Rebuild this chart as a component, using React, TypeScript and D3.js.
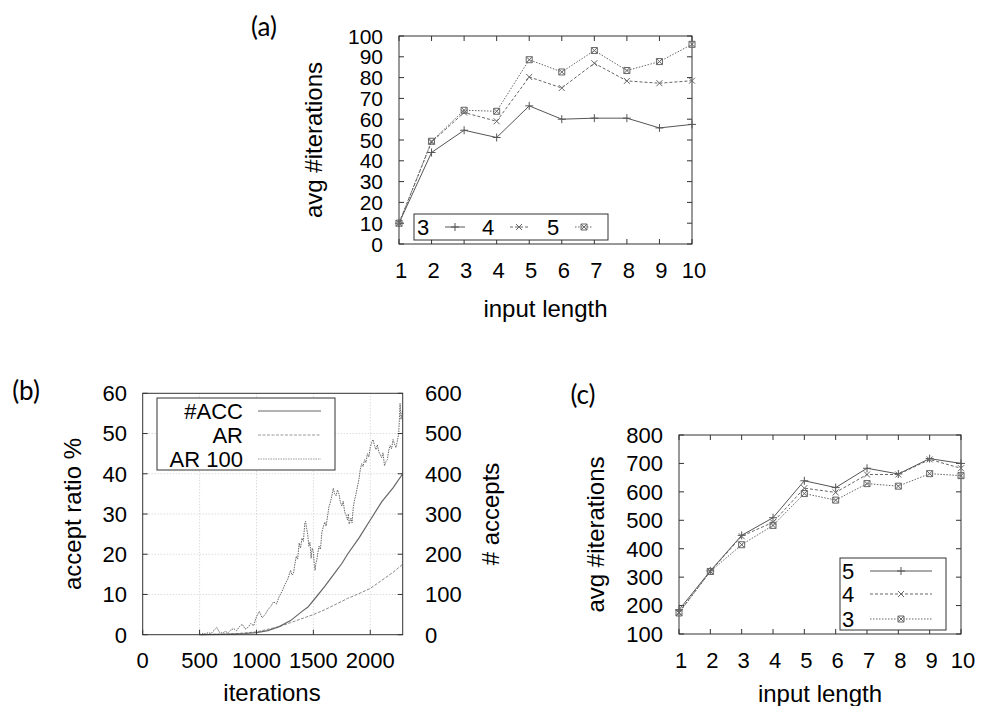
import React from "react";
import * as d3 from "d3";

// panel (a) and (c): avg iterations per input length
const lengths = [1, 2, 3, 4, 5, 6, 7, 8, 9, 10];
const aSeries3 = [10, 44, 54.7, 51.2, 66.4, 60, 60.5, 60.5, 55.8, 57.5];
const aSeries4 = [10, 49, 63.2, 59, 80.3, 75, 86.9, 78.4, 77.3, 78.5];
const aSeries5 = [10, 49.4, 64.3, 63.8, 88.6, 82.7, 93, 83.4, 87.7, 96];
const aTicks = [0, 10, 20, 30, 40, 50, 60, 70, 80, 90, 100];

const cSeries5 = [185, 322, 447, 509, 639, 615, 683, 663, 717, 700];
const cSeries4 = [176, 320, 444, 493, 613, 598, 661, 661, 714, 683];
const cSeries3 = [174, 320, 414, 482, 594, 571, 629, 620, 664, 657];
const cTicks = [100, 200, 300, 400, 500, 600, 700, 800];

// panel (b): acceptance over iterations
const bXTicks = [0, 500, 1000, 1500, 2000];
const bLeftTicks = [0, 10, 20, 30, 40, 50, 60];
const bRightTicks = [0, 100, 200, 300, 400, 500, 600];
const accPoints: [number, number][] = [
  [500, 0], [700, 1], [900, 3], [1000, 5], [1100, 10], [1200, 20], [1300, 35],
  [1400, 58], [1450, 68], [1500, 85], [1600, 120], [1700, 158], [1750, 177],
  [1800, 200], [1900, 240], [2000, 285], [2100, 330], [2200, 365], [2285, 400],
];
const arPoints: [number, number][] = [
  [500, 0], [800, 0.2], [1000, 0.7], [1200, 2.0], [1300, 3.0], [1400, 4.0],
  [1500, 5.0], [1600, 6.2], [1700, 7.6], [1800, 9.0], [1900, 10.2], [2000, 11.5],
  [2100, 13.5], [2200, 15.5], [2285, 17.5],
];
const ar100Points: [number, number][] = [
  [500, 0], [525, 0.3], [550, 0.2], [575, 0.5], [600, 0.3], [625, 1.0], [650, 1.8],
  [675, 0.6], [700, 0.4], [725, 0.8], [750, 0.5], [775, 1.2], [800, 1.5], [825, 1.0],
  [850, 2.0], [875, 2.6], [900, 1.4], [925, 1.8], [950, 2.8], [975, 2.2], [1000, 4.5],
  [1025, 5.8], [1050, 4.2], [1075, 5.0], [1100, 6.2], [1125, 7.0], [1150, 8.2],
  [1175, 7.6], [1200, 9.5], [1225, 10.8], [1250, 12.5], [1275, 13.8], [1300, 16.0],
  [1312, 14.8], [1325, 15.2], [1337, 17.5], [1350, 19.5], [1362, 18.8], [1375, 22.8],
  [1387, 21.5], [1400, 24.0], [1412, 23.2], [1425, 27.8], [1432, 28.2], [1440, 26.5],
  [1450, 25.0], [1460, 22.0], [1470, 23.0], [1480, 19.0], [1490, 21.5], [1500, 20.5],
  [1508, 17.5], [1515, 16.0], [1522, 17.8], [1530, 18.5], [1540, 20.5], [1550, 22.0],
  [1562, 21.2], [1575, 25.5], [1587, 26.8], [1600, 28.0], [1612, 27.0], [1625, 29.5],
  [1637, 31.8], [1650, 33.0], [1662, 34.5], [1675, 36.4], [1687, 35.0], [1700, 34.5],
  [1712, 36.0], [1725, 35.0], [1737, 33.0], [1750, 32.0], [1762, 33.2], [1775, 30.5],
  [1787, 29.8], [1800, 28.5], [1808, 30.0], [1815, 27.5], [1822, 28.2], [1830, 29.0],
  [1840, 27.8], [1850, 31.5], [1862, 33.5], [1875, 35.0], [1887, 36.8], [1900, 38.5],
  [1912, 41.0], [1925, 42.5], [1937, 41.8], [1950, 43.5], [1962, 42.8], [1975, 45.0],
  [1987, 44.2], [2000, 46.5], [2012, 47.8], [2025, 48.5], [2037, 47.0], [2050, 46.0],
  [2062, 47.2], [2075, 45.5], [2087, 44.8], [2100, 44.0], [2112, 45.2], [2125, 42.0],
  [2137, 43.0], [2150, 43.5], [2162, 45.8], [2175, 47.0], [2187, 46.2], [2200, 48.5],
  [2212, 47.5], [2225, 46.5], [2237, 48.0], [2250, 50.0], [2262, 57.5], [2270, 53.5],
  [2275, 54.5], [2285, 56.0],
];

const FONT = "Liberation Sans, Arial, sans-serif";
const LABEL_FONT = "Lato, Open Sans, sans-serif";
const AXIS = "#333";

const markers: Record<string, string> = {
  plus: "M-4,0H4M0,-4V4",
  cross: "M-3,-3L3,3M-3,3L3,-3",
  star: "M-3,-3L3,3M-3,3L3,-3M-3,-3H3V3H-3Z",
};

type Series = {values: number[]; dash: string; marker: string; color: string};

function Frame({x0, y0, x1, y1}: {x0: number; y0: number; x1: number; y1: number}) {
  return <rect x={x0} y={y0} width={x1 - x0} height={y1 - y0} fill="none" stroke={AXIS} strokeWidth={1} />;
}

function LengthPanel({
  x, y, ticks, series, yTitleX, xTitleY, tickSize,
}: {
  x: d3.ScaleLinear<number, number>;
  y: d3.ScaleLinear<number, number>;
  ticks: number[];
  series: Series[];
  yTitleX: number;
  xTitleY: number;
  tickSize: number;
}) {
  const [x0, x1] = x.range();
  const [y1, y0] = y.range();
  const line = d3.line<number>().x((_, i) => x(lengths[i])).y((v) => y(v));
  return (
    <g>
      <Frame x0={x0} y0={y0} x1={x1} y1={y1} />
      {ticks.map((t) => (
        <g key={"y" + t}>
          <line x1={x0} x2={x0 + 5} y1={y(t)} y2={y(t)} stroke={AXIS} />
          <line x1={x1} x2={x1 - 5} y1={y(t)} y2={y(t)} stroke={AXIS} />
          <text x={x0 - 16} y={y(t)} dy="0.36em" textAnchor="end" fontSize={tickSize}>{t}</text>
        </g>
      ))}
      {lengths.map((t) => (
        <g key={"x" + t}>
          <line x1={x(t)} x2={x(t)} y1={y1} y2={y1 - 5} stroke={AXIS} />
          <line x1={x(t)} x2={x(t)} y1={y0} y2={y0 + 5} stroke={AXIS} />
          <text x={x(t) + 2} y={y1 + 26} dy="0.36em" textAnchor="middle" fontSize={22}>{t}</text>
        </g>
      ))}
      {series.map((s, k) => (
        <g key={k}>
          <path d={line(s.values) ?? ""} fill="none" stroke={s.color} strokeWidth={1} strokeDasharray={s.dash} />
          {s.values.map((v, i) => (
            <path key={i} d={markers[s.marker]} transform={`translate(${x(lengths[i])},${y(v)})`}
              fill="none" stroke={s.color} strokeWidth={1} />
          ))}
        </g>
      ))}
      <text x={(x0 + x1) / 2} y={xTitleY} dy="0.36em" textAnchor="middle" fontSize={24}>input length</text>
      <text transform={`translate(${yTitleX},${(y0 + y1) / 2}) rotate(-90)`} dy="0.36em"
        textAnchor="middle" fontSize={24}>avg #iterations</text>
    </g>
  );
}

function LegendSample({x1, x2, yy, s}: {x1: number; x2: number; yy: number; s: Series}) {
  return (
    <g>
      <line x1={x1} x2={x2} y1={yy} y2={yy} stroke={s.color} strokeDasharray={s.dash} />
      <path d={markers[s.marker]} transform={`translate(${(x1 + x2) / 2},${yy})`} fill="none" stroke={s.color} />
    </g>
  );
}

export default function App() {
  // (a)
  const ax = d3.scaleLinear().domain([1, 10]).range([399, 692]);
  const ay = d3.scaleLinear().domain([0, 100]).range([244, 36]);
  const aS: Series[] = [
    {values: aSeries3, dash: "", marker: "plus", color: "#555"},
    {values: aSeries4, dash: "3,2", marker: "cross", color: "#666"},
    {values: aSeries5, dash: "1.5,1.5", marker: "star", color: "#666"},
  ];

  // (c)
  const cx = d3.scaleLinear().domain([1, 10]).range([679, 961]);
  const cy = d3.scaleLinear().domain([100, 800]).range([634, 435]);
  const cS: Series[] = [
    {values: cSeries5, dash: "", marker: "plus", color: "#555"},
    {values: cSeries4, dash: "3,2", marker: "cross", color: "#666"},
    {values: cSeries3, dash: "1.5,1.5", marker: "star", color: "#666"},
  ];

  // (b)
  const bx = d3.scaleLinear().domain([0, 2285]).range([142.7, 402.7]);
  const byL = d3.scaleLinear().domain([0, 60]).range([634.7, 393.3]);
  const byR = d3.scaleLinear().domain([0, 600]).range([634.7, 393.3]);
  const bLineL = d3.line<[number, number]>().x((d) => bx(d[0])).y((d) => byL(d[1]));
  const bLineR = d3.line<[number, number]>().x((d) => bx(d[0])).y((d) => byR(d[1]));
  const [bx0, bx1] = bx.range();
  const [by1, by0] = byL.range();

  return (
    <div style={{position: "absolute", left: 0, top: 0}}>
      <svg width={981} height={706} style={{display: "block", background: "white", fontFamily: FONT}}>
        {/* panel (a) */}
        <text x={264} y={27} dy="0.36em" textAnchor="middle" fontSize={26} style={{fontFamily: LABEL_FONT}}>(a)</text>
        <LengthPanel x={ax} y={ay} ticks={aTicks} series={aS} yTitleX={313} xTitleY={308} tickSize={21} />
        <rect x={414} y={214} width={194} height={26} fill="white" stroke={AXIS} />
        {[["3", 423, 445, 465], ["4", 488, 510, 528], ["5", 553, 575, 593]].map(([lab, tx, s1, s2], i) => (
          <g key={i}>
            <text x={tx as number} y={227} dy="0.36em" textAnchor="middle" fontSize={22}>{lab}</text>
            <LegendSample x1={s1 as number} x2={s2 as number} yy={227} s={aS[i]} />
          </g>
        ))}

        {/* panel (b) */}
        <text x={26} y={391} dy="0.36em" textAnchor="middle" fontSize={26} style={{fontFamily: LABEL_FONT}}>(b)</text>
        {bXTicks.slice(1).map((t) => (
          <line key={"gx" + t} x1={bx(t)} x2={bx(t)} y1={by0} y2={by1} stroke="#ccc" strokeDasharray="1,2" />
        ))}
        {bLeftTicks.slice(1, -1).map((t) => (
          <line key={"gy" + t} x1={bx0} x2={bx1} y1={byL(t)} y2={byL(t)} stroke="#ccc" strokeDasharray="1,2" />
        ))}
        <path d={bLineL(ar100Points) ?? ""} fill="none" stroke="#666" strokeWidth={1} strokeDasharray="1.5,1" />
        <path d={bLineL(arPoints) ?? ""} fill="none" stroke="#888" strokeWidth={1} strokeDasharray="3,1.5" />
        <path d={bLineR(accPoints) ?? ""} fill="none" stroke="#666" strokeWidth={1.2} />
        <Frame x0={bx0} y0={by0} x1={bx1} y1={by1} />
        {bLeftTicks.map((t) => (
          <g key={"l" + t}>
            <line x1={bx0} x2={bx0 + 5} y1={byL(t)} y2={byL(t)} stroke={AXIS} />
            <text x={127} y={byL(t)} dy="0.36em" textAnchor="end" fontSize={22}>{t}</text>
          </g>
        ))}
        {bRightTicks.map((t) => (
          <g key={"r" + t}>
            <line x1={bx1} x2={bx1 - 5} y1={byR(t)} y2={byR(t)} stroke={AXIS} />
            <text x={425} y={byR(t)} dy="0.36em" textAnchor="start" fontSize={22}>{t}</text>
          </g>
        ))}
        {bXTicks.map((t) => (
          <g key={"b" + t}>
            <line x1={bx(t)} x2={bx(t)} y1={by1} y2={by1 - 5} stroke={AXIS} />
            <text x={bx(t)} y={660} dy="0.36em" textAnchor="middle" fontSize={22}>{t}</text>
          </g>
        ))}
        <rect x={157} y={398} width={178} height={72} fill="white" stroke={AXIS} />
        {[["#ACC", 411, "", "#666"], ["AR", 435, "3,1.5", "#999"], ["AR 100", 459, "1.5,1", "#999"]].map(
          ([lab, yy, dash, col], i) => (
            <g key={i}>
              <text x={243} y={yy as number} dy="0.36em" textAnchor="end" fontSize={22}>{lab}</text>
              <line x1={258} x2={321} y1={yy as number} y2={yy as number} stroke={col as string}
                strokeDasharray={dash as string} />
            </g>
          ),
        )}
        <text x={272} y={692} dy="0.36em" textAnchor="middle" fontSize={24}>iterations</text>
        <text transform={`translate(72,${(by0 + by1) / 2}) rotate(-90)`} dy="0.36em" textAnchor="middle"
          fontSize={24}>accept ratio %</text>
        <text transform={`translate(490,${(by0 + by1) / 2}) rotate(-90)`} dy="0.36em" textAnchor="middle"
          fontSize={24}># accepts</text>

        {/* panel (c) */}
        <text x={583} y={395} dy="0.36em" textAnchor="middle" fontSize={26} style={{fontFamily: LABEL_FONT}}>(c)</text>
        <LengthPanel x={cx} y={cy} ticks={cTicks} series={cS} yTitleX={595} xTitleY={693} tickSize={22} />
        <rect x={840} y={558} width={106} height={72} fill="white" stroke={AXIS} />
        {["5", "4", "3"].map((lab, i) => (
          <g key={lab}>
            <text x={842} y={[571, 594, 619][i]} dy="0.36em" textAnchor="start" fontSize={22}>{lab}</text>
            <LegendSample x1={870} x2={932} yy={[571, 594, 619][i]} s={cS[i]} />
          </g>
        ))}
      </svg>
    </div>
  );
}
